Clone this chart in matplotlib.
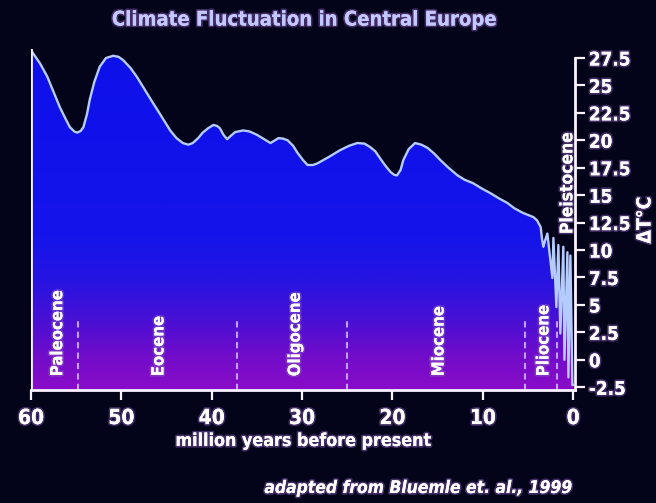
import numpy as np
import matplotlib
matplotlib.use("Agg")
import matplotlib.pyplot as plt
import matplotlib.patheffects as pe
from matplotlib import font_manager
from matplotlib.colors import LinearSegmentedColormap

# narrow bold face if one is around, else condensed DejaVu
names = {f.name for f in font_manager.fontManager.ttflist}
family = ['DejaVu Sans']
if 'Liberation Sans Narrow' in names:
    family = ['Liberation Sans Narrow', 'DejaVu Sans']
plt.rcParams['font.family'] = family
plt.rcParams['font.stretch'] = 'condensed'
plt.rcParams['font.weight'] = 'bold'

# temperature curve (million years before present, deg C)
ages = [60.0, 59.0, 58.2, 57.5, 56.8, 56.2, 55.7, 55.2, 54.9, 54.5, 54.2, 53.8,
        53.5, 53.0, 52.4, 51.7, 50.9, 50.3, 49.8, 49.0, 48.3, 47.4, 46.5, 45.5,
        44.6, 43.9, 43.2, 42.6, 42.1, 41.5, 41.0, 40.4, 39.8, 39.4, 39.1, 38.7,
        38.3, 37.9, 37.4, 36.5, 35.8, 35.0, 34.2, 33.5, 33.0, 32.6, 32.1, 31.6,
        31.0, 30.5, 29.9, 29.4, 28.8, 28.3, 27.0, 25.8, 24.8, 23.9, 23.1, 22.5,
        21.9, 21.4, 20.8, 20.2, 19.8, 19.5, 19.1, 18.8, 18.2, 17.5, 16.8, 16.1,
        15.4, 14.7, 13.8, 12.8, 12.0, 11.1, 10.1, 9.2, 8.2, 7.3, 6.5, 5.6, 5.0,
        4.4, 4.0, 3.6, 3.45, 3.3, 3.1, 2.86, 2.3, 2.19, 1.86, 1.64, 1.42, 1.09,
        0.97, 0.64, 0.53, 0.31, 0.09, 0.0]
temps = [28.2, 27.0, 25.8, 24.4, 23.0, 22.0, 21.2, 20.8, 20.7, 20.85, 21.2, 22.4,
         23.7, 25.3, 26.7, 27.5, 27.7, 27.6, 27.3, 26.6, 25.8, 24.6, 23.4, 22.1,
         20.9, 20.2, 19.75, 19.6, 19.75, 20.2, 20.7, 21.1, 21.4, 21.3, 21.1, 20.5,
         20.1, 20.4, 20.75, 20.9, 20.8, 20.5, 20.1, 19.75, 20.0, 20.2, 20.15, 20.0,
         19.5, 18.85, 18.2, 17.75, 17.75, 17.9, 18.5, 19.1, 19.5, 19.75, 19.7, 19.4,
         19.0, 18.4, 17.7, 17.1, 16.85, 16.8, 17.3, 18.2, 19.2, 19.75, 19.6, 19.3,
         18.8, 18.2, 17.5, 16.8, 16.4, 16.1, 15.6, 15.2, 14.7, 14.3, 13.8, 13.4, 13.2,
         13.0, 12.7, 12.1, 11.0, 10.3, 10.9, 11.5, 7.45, 11.1, 4.8, 10.45, 2.4, 10.3,
         0.0, 9.8, -1.6, 9.5, -2.3, -2.3]

# epochs: name, label position (Ma)
epochs = ['Paleocene', 'Eocene', 'Oligocene', 'Miocene', 'Pliocene']
epoch_pos = [57.1, 45.9, 30.8, 14.9, 3.3]
boundaries = [54.8, 37.2, 25.0, 5.3, 1.75]

x_ticks = [60, 50, 40, 30, 20, 10, 0]
y_ticks = [27.5, 25, 22.5, 20, 17.5, 15, 12.5, 10, 7.5, 5, 2.5, 0, -2.5]

bg = '#03031a'
fg = '#fbf2ff'
glow = [pe.withStroke(linewidth=2.5, foreground='#9060c0', alpha=0.45), pe.Normal()]

fig = plt.figure(figsize=(6.56, 5.03), dpi=100, facecolor=bg)
ax = fig.add_axes([31 / 656, 113 / 503, 544 / 656, 343 / 503])
ax.set_facecolor(bg)
ymin, ymax = -2.75, 28.5
ax.set_xlim(60, -0.2)
ax.set_ylim(ymin, ymax)

# gradient fill under the curve
cmap = LinearSegmentedColormap.from_list('fill', [
    (0.0, '#8a0cc8'), (0.1, '#700cca'), (0.2, '#4a10d4'),
    (0.32, '#2614e2'), (0.45, '#1414ea'), (1.0, '#0e10ea')])
grad = np.linspace(0, 1, 256).reshape(-1, 1)
im = ax.imshow(grad, extent=[60, -0.2, ymin, ymax], origin='lower',
               aspect='auto', cmap=cmap, zorder=1)
poly = ax.fill_between(ages, temps, ymin, color='none', lw=0)
im.set_clip_path(poly.get_paths()[0], transform=ax.transData)

ax.plot(ages, temps, color='#b4ccff', lw=1.7, zorder=3, solid_joinstyle='round')
ax.plot([60, 60], [ymin, temps[0]], color=fg, lw=2, zorder=4)

for b in boundaries:
    ax.plot([b, b], [ymin, 3.7], color='#c0a0f0', lw=1.5,
            linestyle=(0, (3, 2)), zorder=2)

for name, pos in zip(epochs, epoch_pos):
    ax.text(pos, -1.5, name, rotation=90, ha='center', va='bottom',
            color='white', fontsize=12, fontweight='bold', zorder=5, path_effects=glow)
ax.text(0.65, 16.1, 'Pleistocene', rotation=90, ha='center', va='center',
        color='white', fontsize=12.5, fontweight='bold', zorder=5, path_effects=glow)

# axes
for s in ['top', 'left']:
    ax.spines[s].set_visible(False)
ax.spines['bottom'].set_color(fg)
ax.spines['bottom'].set_linewidth(2)
ax.spines['right'].set_color(fg)
ax.spines['right'].set_linewidth(2)
ax.spines['right'].set_bounds(ymin, 27.5)
ax.spines['bottom'].set_zorder(6)

ax.set_xticks(x_ticks)
ax.set_xticklabels([str(t) for t in x_ticks])
ax.yaxis.tick_right()
ax.set_yticks(y_ticks)
ax.set_yticklabels(['%g' % t for t in y_ticks])
ax.tick_params(axis='both', colors=fg, direction='out', length=7, width=1.6,
               labelcolor='white')
ax.tick_params(axis='x', pad=6, labelsize=15)
ax.tick_params(axis='y', pad=3, labelsize=13.5)
for lab in ax.get_xticklabels() + ax.get_yticklabels():
    lab.set_fontweight('bold')
    lab.set_path_effects(glow)

fig.text(303 / 656, 1 - 20 / 503, 'Climate Fluctuation in Central Europe',
         ha='center', va='center', color='#c4c8ff', fontsize=14.5,
         fontweight='bold', path_effects=glow)
fig.text(303 / 656, 1 - 441 / 503, 'million years before present',
         ha='center', va='center', color='white', fontsize=12.8,
         fontweight='bold', path_effects=glow)
fig.text(573 / 656, 1 - 488 / 503, 'adapted from Bluemle et. al., 1999',
         ha='right', va='center', color='white', fontsize=12.5,
         fontweight='bold', fontstyle='italic', path_effects=glow)
fig.text(645 / 656, 1 - 220 / 503, '\u0394T\u00b0C', rotation=90,
         ha='center', va='center', color='white', fontsize=14,
         fontweight='bold', path_effects=glow)

fig.savefig('out.png', dpi=100, facecolor=bg)
